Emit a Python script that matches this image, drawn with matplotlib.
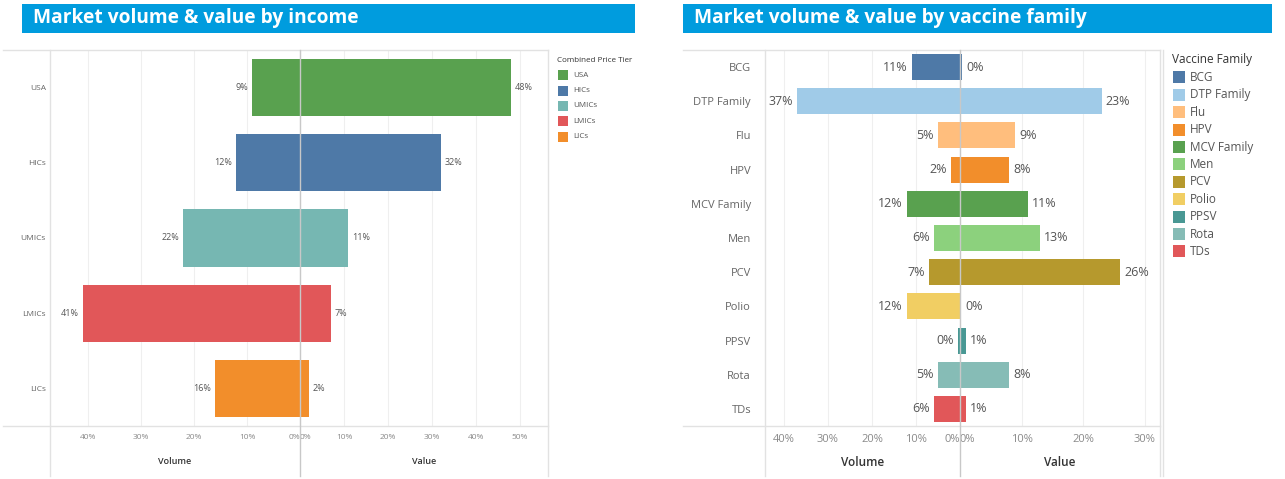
import matplotlib
matplotlib.use('Agg')
import matplotlib.pyplot as plt
from matplotlib.patches import Rectangle
from matplotlib.lines import Line2D

W, H = 1285, 479

# datos: volumen y valor por nivel de ingreso
income_tiers = ['USA', 'HICs', 'UMICs', 'LMICs', 'LICs']
income_volume = [9, 12, 22, 41, 16]
income_value = [48, 32, 11, 7, 2]
income_colors = ['#59A14F', '#4E79A7', '#76B7B2', '#E15759', '#F28E2B']
income_vol_ticks = [0, 10, 20, 30, 40]
income_val_ticks = [0, 10, 20, 30, 40, 50]

# datos: volumen y valor por familia de vacuna
families = ['BCG', 'DTP Family', 'Flu', 'HPV', 'MCV Family', 'Men',
            'PCV', 'Polio', 'PPSV', 'Rota', 'TDs']
family_volume = [11, 37, 5, 2, 12, 6, 7, 12, 0.4, 5, 6]
family_value = [0.3, 23, 9, 8, 11, 13, 26, 0.2, 1, 8, 1]
family_colors = ['#4E79A7', '#A0CBE8', '#FFBE7D', '#F28E2B', '#59A14F', '#8CD17D',
                 '#B6992D', '#F1CE63', '#499894', '#86BCB6', '#E15759']
family_vol_ticks = [0, 10, 20, 30, 40]
family_val_ticks = [0, 10, 20, 30]

plt.rcParams['font.family'] = ['Open Sans', 'DejaVu Sans']

fig = plt.figure(figsize=(W / 100, H / 100), dpi=100)


def box(x0, y0, x1, y1):
    return [x0 / W, 1 - y1 / H, (x1 - x0) / W, (y1 - y0) / H]


def linea(x0, y0, x1, y1, color='#E2E2E2', lw=1.0):
    fig.add_artist(Line2D([x0 / W, x1 / W], [1 - y0 / H, 1 - y1 / H],
                          color=color, lw=lw, transform=fig.transFigure))


def titulo(x0, x1, texto):
    fig.add_artist(Rectangle((x0 / W, 1 - 33 / H), (x1 - x0) / W, 29 / H,
                             facecolor='#009CDE', edgecolor='none',
                             transform=fig.transFigure))
    fig.text((x0 + 11) / W, 1 - 18.5 / H, texto, color='white', fontsize=13.8,
             fontweight='bold', va='center', ha='left')


def panel(cats, vol, val, colors, x_left, x_zero, x_right, vol_max, val_max,
          vol_ticks, val_ticks, fs, lfs, ypad, tpad):
    ax_vol = fig.add_axes(box(x_left, 50, x_zero, 426))
    ax_val = fig.add_axes(box(x_zero, 50, x_right, 426))
    y = list(range(len(cats)))
    for ax, data, lim, ticks, signo in [(ax_vol, vol, (vol_max, 0), vol_ticks, -1),
                                        (ax_val, val, (0, val_max), val_ticks, 1)]:
        ax.barh(y, data, height=0.76, color=colors, zorder=3)
        ax.set_xlim(*lim)
        ax.set_ylim(len(cats) - 0.5, -0.5)
        ax.set_xticks(ticks)
        ax.set_xticklabels([f'{t}%' for t in ticks])
        ax.tick_params(axis='x', length=0, labelsize=fs, labelcolor='#8A8A8A', pad=tpad)
        ax.grid(axis='x', color='#EFEFEF', lw=0.8, zorder=0)
        for s in ax.spines.values():
            s.set_visible(False)
        for i, v in enumerate(data):
            ax.annotate(f'{v:.0f}%', xy=(v, i), xytext=(signo * 3, 0),
                        textcoords='offset points', ha='left' if signo > 0 else 'right',
                        va='center', fontsize=lfs, color='#555555', zorder=4)
        for lab, t in zip(ax.get_xticklabels(), ticks):
            if t == 0:
                lab.set_ha('left' if signo > 0 else 'right')
    ax_vol.set_yticks(y)
    ax_vol.set_yticklabels(cats)
    ax_vol.tick_params(axis='y', length=0, labelsize=fs, labelcolor='#666666', pad=ypad)
    ax_val.set_yticks([])
    fig.text((x_left + x_zero) / 2 / W, 1 - 462 / H, 'Volume', ha='center', va='center',
             fontsize=fs + 0.5, color='#333333', fontweight='semibold')
    fig.text((x_zero + x_right) / 2 / W, 1 - 462 / H, 'Value', ha='center', va='center',
             fontsize=fs + 0.5, color='#333333', fontweight='semibold')
    return ax_vol, ax_val


def leyenda(x, y0, titulo_ley, cats, colors, paso, lado, fs):
    fig.text(x / W, 1 - y0 / H, titulo_ley, fontsize=fs, color='#333333',
             va='center', ha='left')
    for i, (c, col) in enumerate(zip(cats, colors)):
        yc = y0 + paso * (i + 1)
        fig.add_artist(Rectangle(((x + 1) / W, 1 - (yc + lado / 2) / H), lado / W, lado / H,
                                 facecolor=col, edgecolor='none', transform=fig.transFigure))
        fig.text((x + lado + 6) / W, 1 - yc / H, c, fontsize=fs, color='#555555',
                 va='center', ha='left')


# panel izquierdo
titulo(22, 635, 'Market volume & value by income')
panel(income_tiers, income_volume, income_value, income_colors,
      50, 300, 548, 47.2, 56.4, income_vol_ticks, income_val_ticks, 6, 6.5, 3, 6)
linea(3, 50, 548, 50)
linea(3, 426, 548, 426)
linea(50, 50, 50, 476)
linea(548, 50, 548, 476)
linea(300, 50, 300, 476, color='#C8C8C8')
leyenda(557, 60, 'Combined Price Tier', income_tiers, income_colors, 15.3, 10, 5.8)

# panel derecho
titulo(683, 1272, 'Market volume & value by vaccine family')
panel(families, family_volume, family_value, family_colors,
      765, 960, 1160, 44.3, 32.5, family_vol_ticks, family_val_ticks, 8, 9, 10, 6)
linea(683, 50, 1160, 50)
linea(683, 426, 1160, 426)
linea(765, 50, 765, 476)
linea(1160, 50, 1160, 476)
linea(1163, 50, 1163, 476)
linea(960, 50, 960, 476, color='#C8C8C8')
leyenda(1172, 60, 'Vaccine Family', families, family_colors, 17.4, 12, 8.5)

fig.savefig('out.png', dpi=100)
